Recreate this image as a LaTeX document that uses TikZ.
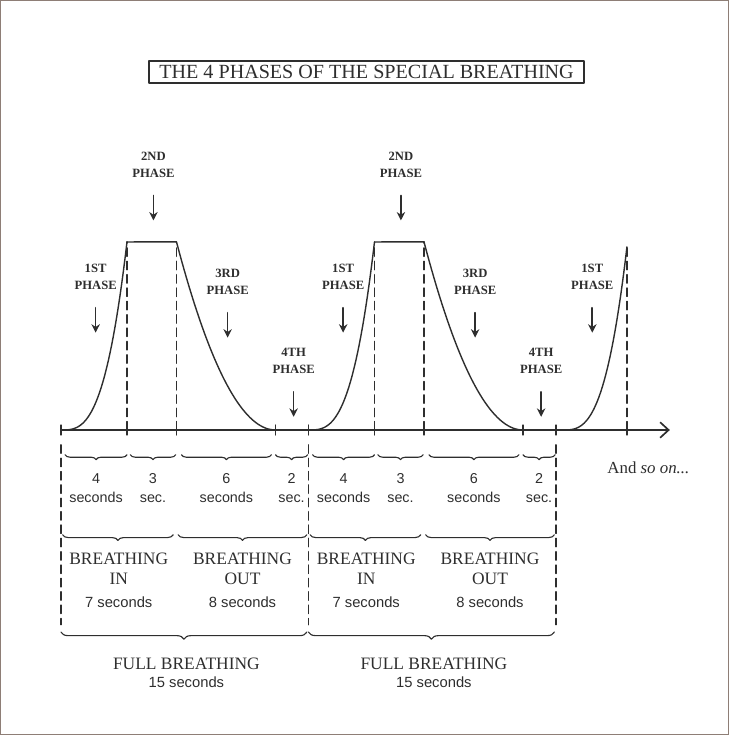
\documentclass[tikz,border=0pt]{standalone}
\usepackage{fontspec}
\setmainfont{Liberation Serif}
\setsansfont{Liberation Sans}
\usetikzlibrary{arrows.meta,decorations.pathreplacing,positioning}
\definecolor{ink}{HTML}{2E2E2E}
\definecolor{edgebrown}{HTML}{8E7E76}
\begin{document}
\begin{tikzpicture}[x=0.4125cm, y=0.4125cm, line join=round, line cap=round, color=ink,
		>={Straight Barb[length=6pt,width=11pt]},
		curve/.style={line width=1pt},
		guide/.style={line width=1pt, dash pattern=on 6pt off 3.5pt},
		phase/.style={font=\bfseries\fontsize{9}{12}\selectfont, align=center, inner sep=0pt, anchor=south},
		phasearr/.style={-{Stealth[length=6pt,width=6pt]}, line width=1.2pt, shorten <=0.45cm},
		brc/.style={decorate, decoration={brace, mirror, amplitude=#1}, line width=0.8pt},
		secs/.style={font=\sffamily\fontsize{10.2}{13.5}\selectfont, align=center},
		words/.style={font=\fontsize{12.4}{14.2}\selectfont, align=center}]
	\useasboundingbox (-3.697,-18.485) rectangle (40.485,26.061);
	\draw[edgebrown, line width=2pt] (-3.697,-18.485) rectangle (40.485,26.061);
	\node[draw, line width=0.9pt, font=\fontsize{14.3}{16}\selectfont, minimum width=10.875cm, minimum height=0.55cm, inner sep=0pt] (title) at (18.52,21.7) {THE 4 PHASES OF THE SPECIAL BREATHING};
	\draw[->, line width=1.2pt] (0,0) coordinate (o) -- (36.9,0) coordinate (xend);
	\foreach \t in {0,4,7,13,15,19,22,28,30,34.3}
		\draw[line width=0.9pt] (\t,-0.3) -- (\t,0.3);
	\foreach \s in {0,15}{
		\draw[curve] plot[domain=0:4, samples=40] (\s+\x,{11.4*(\x/4)^3}) -- plot[domain=7:13, samples=40] (\s+\x,{11.4*((13-\x)/6)^2});
		\draw[guide] (\s+4,0) -- (\s+4,11.4) (\s+7,0) -- (\s+7,11.4);
		\foreach \t/\h/\n in {2.1/5.9/1ST, 5.6/12.7/2ND, 10.1/5.6/3RD, 14.1/0.8/4TH}{
			\coordinate (tip\n\s) at (\s+\t,\h);
			\node[phase] (lbl\n\s) at (\s+\t,\h+2.6) {\n\\PHASE};
			\draw[phasearr] (lbl\n\s) -- (tip\n\s);
		}
	}
	\draw[curve] plot[domain=0:3.9, samples=40] (30.4+\x,{11.1*(\x/3.9)^3});
	\draw[guide] (34.3,0) -- (34.3,11.1);
	\coordinate (tip1ST30) at (32.2,5.9);
	\node[phase] (lbl1ST30) at (32.2,8.5) {1ST\\PHASE};
	\draw[phasearr] (lbl1ST30) -- (tip1ST30);
	\foreach \s in {0,15,30}
		\draw[guide] (\s,-0.9) -- (\s,-11.8);
	\foreach \s in {0,15}{
		\foreach \a/\b/\n/\lab in {0.25/4/4/seconds, 4.2/6.95/3/sec., 7.3/12.75/6/seconds, 13/14.95/2/sec.}{
			\draw[brc=3.5pt] (\s+\a,-1.5) -- (\s+\b,-1.5);
			\node[secs] (dur\n-\s) at ({\s+(\a+\b)/2},-3.5) {\n\\\lab};
		}
		\draw[brc=4pt] (\s+0.1,-6.35) -- (\s+6.8,-6.35);
		\draw[brc=4pt] (\s+7.1,-6.35) -- (\s+14.9,-6.35);
		\node[words] (in\s) at (\s+3.5,-9.1) {BREATHING\\IN\\[2pt]{\sffamily\fontsize{10.5}{12}\selectfont 7 seconds}};
		\node[words] (out\s) at (\s+11,-9.1) {BREATHING\\OUT\\[2pt]{\sffamily\fontsize{10.5}{12}\selectfont 8 seconds}};
		\draw[brc=5pt] (\s,-12.25) -- (\s+14.9,-12.25);
		\node[words, font=\fontsize{12.4}{13}\selectfont] (full\s) at (\s+7.6,-14.7) {FULL BREATHING\\{\sffamily\fontsize{10.5}{12}\selectfont 15 seconds}};
	}
	\node[font=\fontsize{12}{14}\selectfont] (more) at (35.6,-2.3) {And \textit{so on...}};
\end{tikzpicture}
\end{document}
